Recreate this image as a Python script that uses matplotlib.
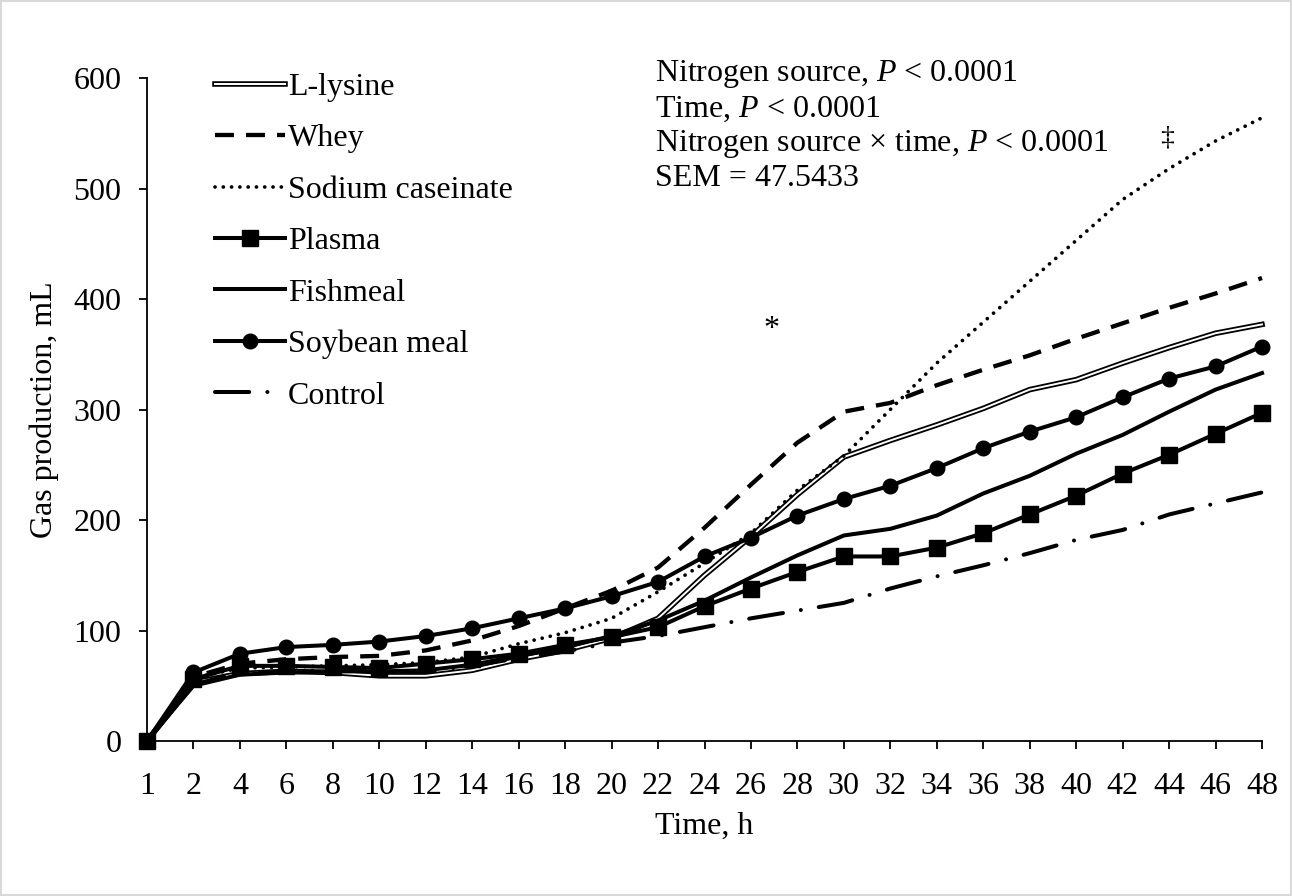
import matplotlib
matplotlib.use("Agg")
import matplotlib.pyplot as plt
from matplotlib.patches import Rectangle

plt.rcParams['font.family'] = ['Liberation Serif', 'DejaVu Serif']
plt.rcParams['mathtext.fontset'] = 'custom'
plt.rcParams['mathtext.it'] = 'Liberation Serif:italic'
plt.rcParams['mathtext.rm'] = 'Liberation Serif'

hours = ["1", "2", "4", "6", "8", "10", "12", "14", "16", "18", "20", "22", "24",
         "26", "28", "30", "32", "34", "36", "38", "40", "42", "44", "46", "48"]

l_lysine = [0, 53, 61, 63, 62, 59, 59, 64, 74, 82, 93, 111, 150, 185, 223, 257,
            272, 286, 301, 318, 327, 342, 356, 369, 377]
whey = [0, 58, 70, 74, 76, 77, 82, 91, 104, 120, 136, 157, 193, 232, 270, 298,
        306, 322, 336, 349, 364, 378, 392, 405, 419]
sodium_caseinate = [0, 57, 66, 67, 68, 69, 71, 76, 88, 98, 111, 135, 161, 188,
                    227, 258, 300, 342, 379, 416, 453, 490, 518, 543, 564]
plasma = [0, 56, 68, 68, 67, 66, 70, 74, 79, 87, 94, 103, 122, 138, 153, 167,
          167, 175, 188, 205, 222, 242, 259, 278, 297]
fishmeal = [0, 50, 60, 62, 63, 63, 64, 69, 77, 85, 95, 109, 127, 148, 168, 186,
            192, 204, 224, 240, 260, 277, 298, 318, 333]
soybean_meal = [0, 62, 79, 85, 87, 90, 95, 102, 111, 120, 131, 144, 167, 184,
                204, 219, 231, 247, 265, 280, 293, 311, 328, 339, 357]
control = [0, 51, 62, 63, 64, 63, 63, 68, 75, 81, 89, 95, 103, 111, 118, 125,
           138, 149, 159, 170, 182, 191, 205, 215, 225]

series_names = ["L-lysine", "Whey", "Sodium caseinate", "Plasma", "Fishmeal",
                "Soybean meal", "Control"]

stats_lines = ["Nitrogen source, $\\mathit{P}$ < 0.0001",
               "Time, $\\mathit{P}$ < 0.0001",
               "Nitrogen source \u00d7 time, $\\mathit{P}$ < 0.0001",
               "SEM = 47.5433"]

x = list(range(len(hours)))
FS = 23

fig = plt.figure(figsize=(12.92, 8.96), dpi=100)
ax = fig.add_axes([147 / 1292, 1 - 741 / 896, (1262 - 147) / 1292, (741 - 78) / 896])

lw = 2.9
# L-lysine: double line (black with white core)
lys_outer, = ax.plot(x, l_lysine, color="black", lw=4.0, solid_joinstyle="round", clip_on=False)
lys_inner, = ax.plot(x, l_lysine, color="white", lw=1.4, solid_joinstyle="round", clip_on=False)
wh, = ax.plot(x, whey, color="black", lw=3.1, dashes=(4.4, 2.8), clip_on=False)
sc, = ax.plot(x, sodium_caseinate, color="black", lw=2.7, dashes=(0.01, 2.2),
              dash_capstyle="round", clip_on=False)
pl, = ax.plot(x, plasma, color="black", lw=lw, marker="s", ms=11, clip_on=False)
fm, = ax.plot(x, fishmeal, color="black", lw=lw, clip_on=False)
sb, = ax.plot(x, soybean_meal, color="black", lw=lw, marker="o", ms=10.5, clip_on=False)
ct, = ax.plot(x, control, color="black", lw=lw, dashes=(8.5, 4.5, 0.01, 4.5),
              dash_capstyle="round", clip_on=False)

ax.set_xlim(0, len(hours) - 1)
ax.set_ylim(0, 600)
ax.set_xticks(x)
ax.set_xticklabels(hours)
ax.set_yticks(range(0, 601, 100))
ax.tick_params(axis="both", direction="out", length=5.5, width=1.3, labelsize=FS)
ax.tick_params(axis="x", pad=16.5)
ax.tick_params(axis="y", pad=13)
for side in ["top", "right"]:
    ax.spines[side].set_visible(False)
for side in ["left", "bottom"]:
    ax.spines[side].set_linewidth(1.3)

ax.set_xlabel("Time, h", fontsize=FS, labelpad=8)
ax.set_ylabel("Gas production, mL", fontsize=FS, labelpad=10)

leg = ax.legend([(lys_outer, lys_inner), wh, sc, pl, fm, sb, ct], series_names,
                loc="upper left", bbox_to_anchor=(0.061, 1.008), frameon=False,
                fontsize=FS, handlelength=2.2, handletextpad=0.08,
                labelspacing=0.69, borderpad=0, borderaxespad=0)

for i, line in enumerate(stats_lines):
    fig.text(655 / 1292, 1 - (74 + i * 35) / 896, line, fontsize=FS,
             va="center", ha="left")

ax.text(13.45, 372, "*", fontsize=FS, ha="center", va="center")
ax.text(21.95, 546, "\u2021", fontsize=20, ha="center", va="center")

fig.patches.append(Rectangle((0.001, 0.001), 0.998, 0.998, transform=fig.transFigure,
                             fill=False, edgecolor="#d9d9d9", lw=1.5))

fig.savefig("out.png", dpi=100)
